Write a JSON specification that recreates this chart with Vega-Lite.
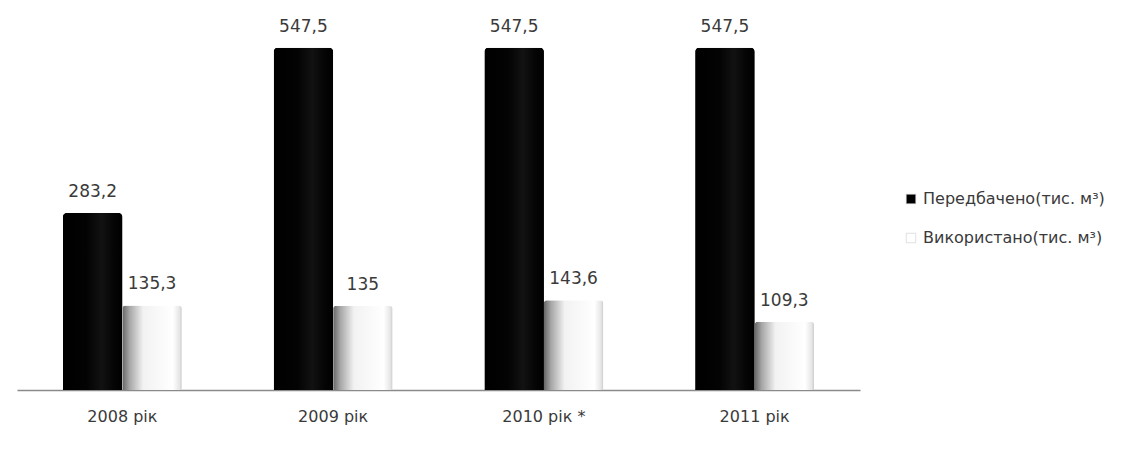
{
  "$schema": "https://vega.github.io/schema/vega-lite/v6.json",
  "width": 843,
  "height": 375,
  "autosize": {"type": "none"},
  "padding": {"left": 17, "top": 15, "right": 267, "bottom": 64},
  "background": "white",
  "config": {
    "view": {"stroke": null},
    "font": "DejaVu Sans",
    "text": {"font": "DejaVu Sans"}
  },
  "data": {
    "values": [
      {"year": "2008 рік", "series": "Передбачено(тис. м³)", "value": 283.2, "label": "283,2"},
      {"year": "2008 рік", "series": "Використано(тис. м³)", "value": 135.3, "label": "135,3"},
      {"year": "2009 рік", "series": "Передбачено(тис. м³)", "value": 547.5, "label": "547,5"},
      {"year": "2009 рік", "series": "Використано(тис. м³)", "value": 135, "label": "135"},
      {"year": "2010 рік *", "series": "Передбачено(тис. м³)", "value": 547.5, "label": "547,5"},
      {"year": "2010 рік *", "series": "Використано(тис. м³)", "value": 143.6, "label": "143,6"},
      {"year": "2011 рік", "series": "Передбачено(тис. м³)", "value": 547.5, "label": "547,5"},
      {"year": "2011 рік", "series": "Використано(тис. м³)", "value": 109.3, "label": "109,3"}
    ]
  },
  "encoding": {
    "x": {
      "field": "year", "type": "nominal", "sort": null,
      "scale": {"paddingInner": 0.436, "paddingOuter": 0.218},
      "axis": {
        "title": null, "labelAngle": 0, "ticks": false,
        "domainColor": "#8a8a8a", "domainWidth": 1.5,
        "labelFont": "DejaVu Sans", "labelFontSize": 16, "labelColor": "#3a3a3a",
        "labelPadding": 18
      }
    },
    "xOffset": {
      "field": "series", "type": "nominal",
      "sort": ["Передбачено(тис. м³)", "Використано(тис. м³)"],
      "scale": {"paddingInner": 0, "paddingOuter": 0}
    },
    "y": {
      "field": "value", "type": "quantitative",
      "scale": {"domain": [0, 600], "nice": false},
      "axis": null
    }
  },
  "layer": [
    {
      "mark": {"type": "bar", "cornerRadiusTopLeft": 4, "cornerRadiusTopRight": 4},
      "encoding": {
        "color": {
          "field": "series", "type": "nominal",
          "sort": ["Передбачено(тис. м³)", "Використано(тис. м³)"],
          "scale": {"domain": ["Передбачено(тис. м³)", "Використано(тис. м³)"], "range": ["#000000", "#ffffff"]},
          "legend": {
            "title": null, "orient": "none", "legendX": 886, "legendY": 176,
            "symbolType": "square", "symbolSize": 90, "symbolStrokeColor": "#cccccc", "symbolStrokeWidth": 0.6,
            "labelFont": "DejaVu Sans", "labelFontSize": 16, "labelColor": "#3a3a3a",
            "rowPadding": 23, "labelOffset": 4, "labelLimit": 400
          }
        }
      }
    },
    {
      "transform": [{"filter": "datum.series === 'Передбачено(тис. м³)'"}],
      "mark": {
        "type": "bar", "cornerRadiusTopLeft": 4, "cornerRadiusTopRight": 4,
        "fill": {
          "gradient": "linear", "x1": 0, "y1": 0, "x2": 1, "y2": 0,
          "stops": [
            {"offset": 0, "color": "#000000"},
            {"offset": 0.4, "color": "#030303"},
            {"offset": 0.65, "color": "#121212"},
            {"offset": 0.85, "color": "#050505"},
            {"offset": 1, "color": "#000000"}
          ]
        }
      }
    },
    {
      "transform": [{"filter": "datum.series === 'Використано(тис. м³)'"}],
      "mark": {
        "type": "bar", "cornerRadiusTopLeft": 3, "cornerRadiusTopRight": 3,
        "fill": {
          "gradient": "linear", "x1": 0, "y1": 0, "x2": 1, "y2": 0,
          "stops": [
            {"offset": 0, "color": "#666666"},
            {"offset": 0.12, "color": "#a6a6a6"},
            {"offset": 0.35, "color": "#f2f2f2"},
            {"offset": 0.85, "color": "#ffffff"},
            {"offset": 0.96, "color": "#e6e6e6"},
            {"offset": 1, "color": "#cccccc"}
          ]
        }
      }
    },
    {
      "mark": {"type": "text", "baseline": "alphabetic", "dy": -16, "fontSize": 17, "color": "#3a3a3a", "font": "DejaVu Sans"},
      "encoding": {"text": {"field": "label"}}
    }
  ]
}
